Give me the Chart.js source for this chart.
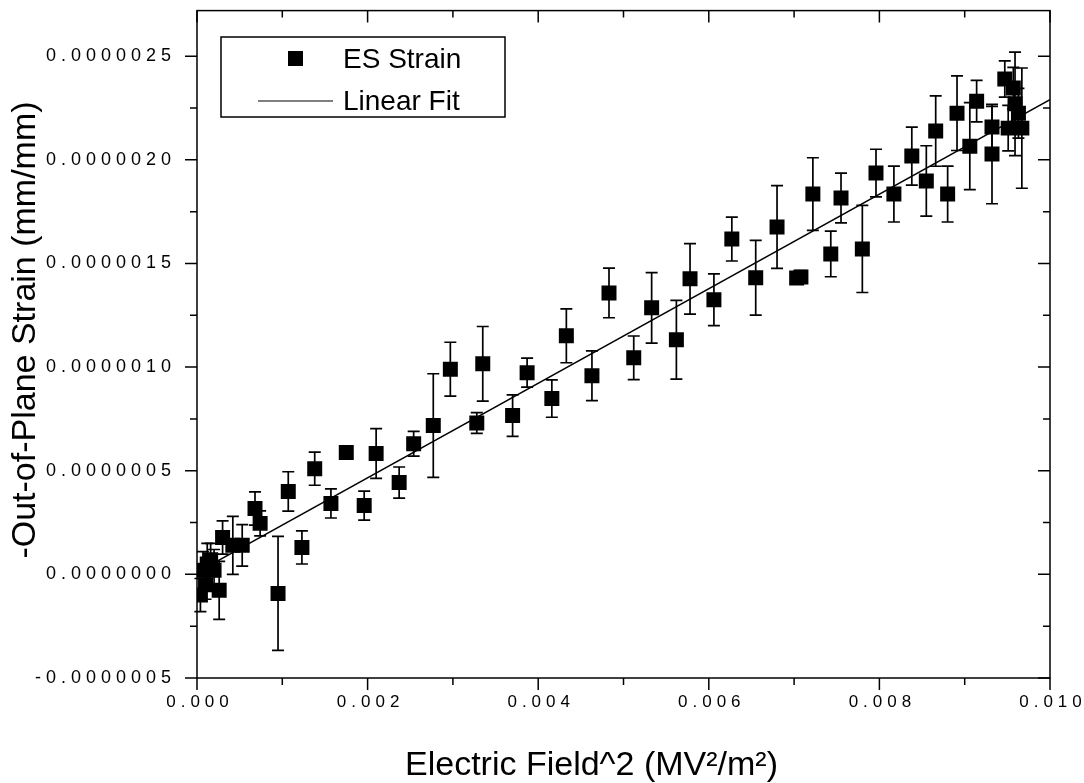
<!DOCTYPE html>
<html lang="en">
<head>
<meta charset="UTF-8">
<title>ES Strain vs Electric Field^2</title>
<script src="https://cdn.jsdelivr.net/npm/chart.js"></script>
<style>
  html,body{margin:0;padding:0;background:#fff;}
  #wrap{width:1084px;height:783px;position:relative;}
</style>
</head>
<body>
<div id="wrap"><canvas id="chart" width="1084" height="783"></canvas></div>
<script>
// field^2 in units of 1e-3 MV^2/m^2, strain and error in units of 1e-6 mm/mm
const fieldSq = [0.04,0.07,0.10,0.12,0.16,0.20,0.26,0.30,0.42,0.53,0.68,0.74,0.95,1.07,1.23,1.38,1.57,1.75,1.96,2.10,
  2.37,2.54,2.77,2.97,3.28,3.35,3.70,3.87,4.16,4.33,4.63,4.83,5.12,5.33,5.62,5.78,6.06,6.27,6.55,6.80,
  7.03,7.08,7.22,7.43,7.55,7.80,7.96,8.17,8.38,8.55,8.66,8.80,8.91,9.06,9.14,9.32,9.32,9.47,9.57,9.59,9.63,9.51,9.67];
const strain = [-0.10,0.02,-0.05,0.05,0.07,0.02,-0.077,0.178,0.14,0.14,0.318,0.246,-0.092,0.40,0.13,0.51,0.342,0.588,0.332,0.583,
  0.443,0.63,0.718,0.99,0.73,1.016,0.766,0.973,0.848,1.151,0.958,1.358,1.045,1.286,1.132,1.426,1.325,1.618,1.431,1.676,
  1.43,1.435,1.835,1.546,1.816,1.57,1.936,1.835,2.018,1.898,2.139,1.835,2.225,2.066,2.283,2.158,2.028,2.39,2.346,2.27,2.225,2.153,2.153];
const strainErr = [0.08,0.09,0.07,0.10,0.08,0.10,0.14,0.08,0.14,0.10,0.08,0.06,0.275,0.095,0.08,0.08,0.07,0.02,0.07,0.12,
  0.075,0.06,0.25,0.13,0.05,0.18,0.10,0.07,0.09,0.13,0.12,0.12,0.105,0.17,0.19,0.17,0.125,0.106,0.18,0.20,
  0.03,0.03,0.175,0.11,0.12,0.21,0.115,0.135,0.14,0.17,0.17,0.135,0.18,0.21,0.10,0.10,0.24,0.087,0.10,0.25,0.12,0.11,0.29];
// linear fit end points
const fitX = [0, 10];
const fitY = [0.01, 2.29];

const xTicks = [0, 0.002, 0.004, 0.006, 0.008, 0.010];
const xTickLabels = ['0.000','0.002','0.004','0.006','0.008','0.010'];
const yTicks = [-0.0000005, 0, 0.0000005, 0.0000010, 0.0000015, 0.0000020, 0.0000025];
const yTickLabels = ['-0.0000005','0.0000000','0.0000005','0.0000010','0.0000015','0.0000020','0.0000025'];

const pts = fieldSq.map((x,i)=>({x:x*1e-3, y:strain[i]*1e-6, e:strainErr[i]*1e-6}));
const fitPts = fitX.map((x,i)=>({x:x*1e-3, y:fitY[i]*1e-6}));

const FONT = '"Liberation Sans", Arial, sans-serif';

const frame = {
  id:'frame',
  beforeDatasetsDraw(c){
    const {ctx, scales:{x, y}} = c;
    const ds = c.data.datasets[0].data;
    ctx.save();
    ctx.strokeStyle = '#000'; ctx.lineWidth = 1.7;
    ds.forEach(p=>{
      const px = x.getPixelForValue(p.x);
      const top = y.getPixelForValue(p.y + p.e), bot = y.getPixelForValue(p.y - p.e);
      ctx.beginPath();
      ctx.moveTo(px, top); ctx.lineTo(px, bot);
      ctx.moveTo(px-6, top); ctx.lineTo(px+6, top);
      ctx.moveTo(px-6, bot); ctx.lineTo(px+6, bot);
      ctx.stroke();
    });
    ctx.restore();
  },
  afterDraw(c){
    const {ctx, chartArea:a, scales:{x, y}} = c;
    ctx.save();
    ctx.strokeStyle = '#000'; ctx.lineWidth = 1.5;
    ctx.strokeRect(a.left, a.top, a.right-a.left, a.bottom-a.top);
    // x ticks, major every 0.002, minor every 0.001
    for(let i=0;i<=10;i++){
      const px = x.getPixelForValue(i*0.001), major = i%2===0;
      ctx.beginPath();
      ctx.moveTo(px, a.bottom); ctx.lineTo(px, a.bottom + (major?12:7));
      ctx.moveTo(px, a.top); ctx.lineTo(px, a.top + (major?12:7));
      ctx.stroke();
    }
    for(let i=-2;i<=10;i++){
      const py = y.getPixelForValue(i*0.25e-6), major = i%2===0;
      ctx.beginPath();
      ctx.moveTo(a.left, py); ctx.lineTo(a.left - (major?12:7), py);
      ctx.moveTo(a.right, py); ctx.lineTo(a.right - (major?12:7), py);
      ctx.stroke();
    }
    ctx.fillStyle = '#000';
    ctx.font = '18px ' + FONT;
    ctx.letterSpacing = '5px';
    ctx.textBaseline = 'middle';
    ctx.textAlign = 'right';
    yTicks.forEach((v,i)=> ctx.fillText(yTickLabels[i], a.left - 21, y.getPixelForValue(v)));
    ctx.font = '17px ' + FONT;
    ctx.textAlign = 'center';
    ctx.textBaseline = 'top';
    xTicks.forEach((v,i)=> ctx.fillText(xTickLabels[i], x.getPixelForValue(v) + 3, a.bottom + 16));
    ctx.letterSpacing = '0px';
    // axis titles
    ctx.font = '34px ' + FONT;
    ctx.textBaseline = 'alphabetic';
    ctx.fillText('Electric Field^2 (MV\u00B2/m\u00B2)', (a.left+a.right)/2 - 32, 775);
    ctx.save();
    ctx.translate(35, 330);
    ctx.rotate(-Math.PI/2);
    ctx.fillText('-Out-of-Plane Strain (mm/mm)', 0, 0);
    ctx.restore();
    // legend
    ctx.lineWidth = 1.5;
    ctx.strokeRect(221, 37, 284, 80);
    ctx.fillRect(288, 51, 15, 15);
    ctx.lineWidth = 1.2;
    ctx.beginPath(); ctx.moveTo(258, 101); ctx.lineTo(333, 101); ctx.stroke();
    ctx.font = '28px ' + FONT;
    ctx.textAlign = 'left';
    ctx.fillText('ES Strain', 343, 68);
    ctx.fillText('Linear Fit', 343, 110);
    ctx.restore();
  }
};

new Chart(document.getElementById('chart'), {
  type:'scatter',
  data:{datasets:[
    {label:'ES Strain', data:pts, pointStyle:'rect', pointRadius:10.6, pointHoverRadius:10.6,
     backgroundColor:'#000', borderColor:'#000', borderWidth:0},
    {label:'Linear Fit', type:'line', data:fitPts, showLine:true, pointRadius:0,
     borderColor:'#000', borderWidth:1.5, fill:false}
  ]},
  options:{
    responsive:false, animation:false, events:[],
    layout:{padding:{left:197, right:34, top:10, bottom:105}},
    plugins:{legend:{display:false}, tooltip:{enabled:false}},
    scales:{
      x:{type:'linear', min:0, max:0.01, display:false},
      y:{type:'linear', min:-0.0000005, max:0.00000272, display:false}
    }
  },
  plugins:[frame]
});
</script>
</body>
</html>
